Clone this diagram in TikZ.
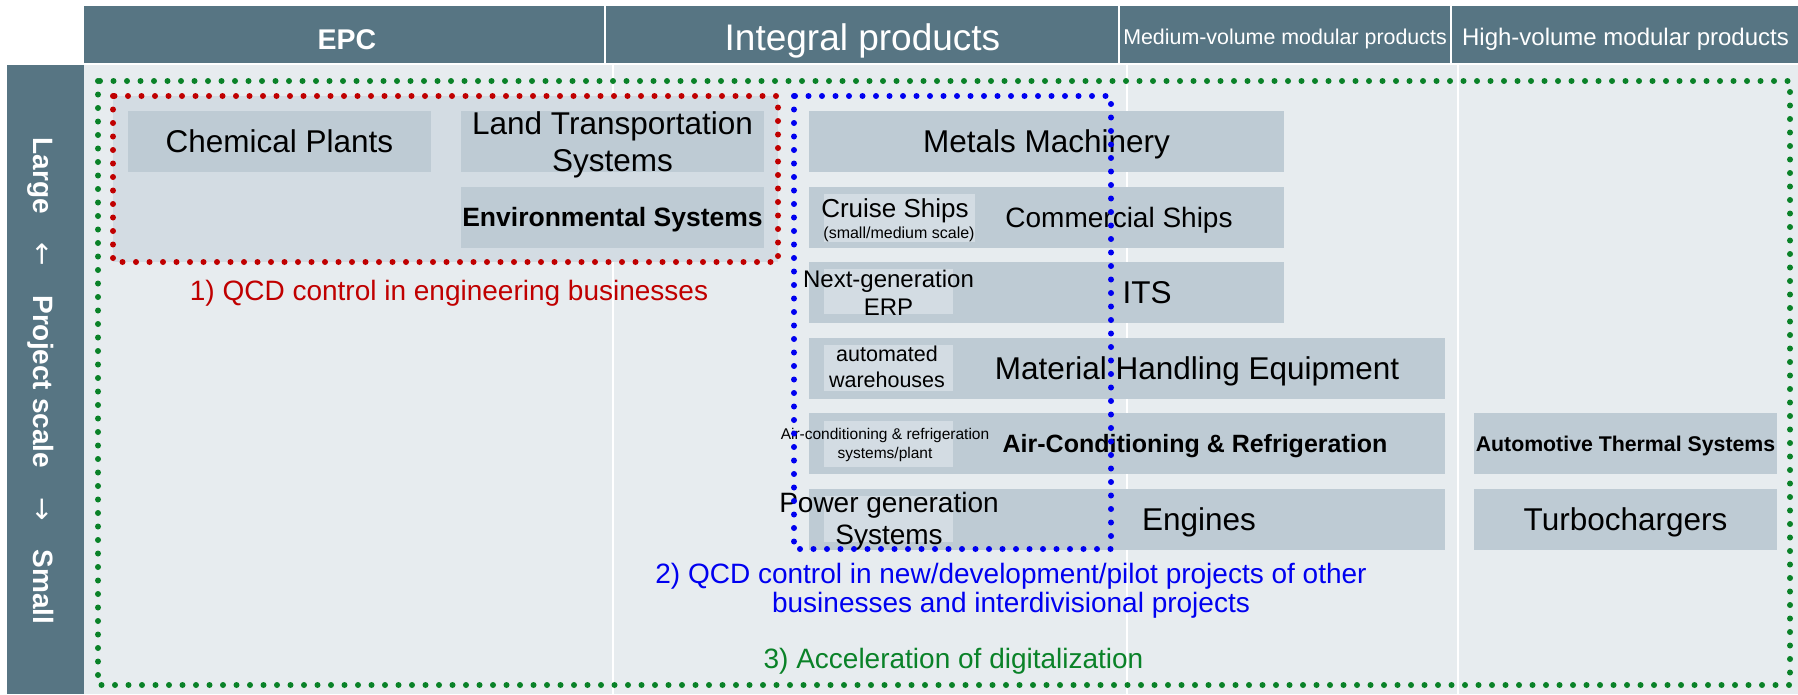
\documentclass[tikz,border=0pt]{standalone}
\usepackage{fontspec}
\setmainfont{Liberation Sans}
\newfontfamily\arrowfont{DejaVu Sans}
\usetikzlibrary{positioning}
\usepackage{xcolor}
\definecolor{HdrSlate}{HTML}{577583}
\definecolor{BodyMist}{HTML}{E7ECEF}
\definecolor{CellGray}{HTML}{BECBD4}
\definecolor{CellLight}{HTML}{D3DCE3}
\definecolor{QcdRed}{HTML}{C00000}
\definecolor{QcdBlue}{HTML}{0000F0}
\definecolor{DigiGreen}{HTML}{0A8228}
\tikzset{
    % Header and background styles
    header/.style={
        rectangle,
        fill=HdrSlate,
        inner sep=0pt,
        minimum height=57pt
    },
    hdrtext/.style={
        text=white,
        inner sep=0pt,
        anchor=base
    },
    column/.style={
        rectangle,
        fill=BodyMist,
        inner sep=0pt,
        minimum height=629pt
    },
    % Product boxes
    cell/.style={
        rectangle,
        fill=CellGray,
        inner sep=0pt,
        minimum height=61pt,
        text depth=0pt,
        font=\fontsize{31.5pt}{37pt}\selectfont
    },
    subcell/.style={
        rectangle,
        fill=CellLight,
        inner sep=0pt,
        minimum width=129pt,
        minimum height=46pt
    },
    celltext/.style={
        inner sep=0pt,
        text depth=0pt,
        font=\fontsize{31.5pt}{37pt}\selectfont
    },
    stacktext/.style={
        inner sep=0pt,
        align=center
    },
    goaltext/.style={
        inner sep=0pt,
        align=center,
        font=\fontsize{28pt}{29pt}\selectfont
    },
    % Dotted frames
    dotline/.style={
        line width=6pt,
        line cap=round,
        dash pattern=on 0pt off 13.5pt
    }
}
\newcommand{\scalearrow}[1]{\hspace{29pt}{\arrowfont\mdseries #1}\hspace{29pt}}

\begin{document}
\begin{tikzpicture}[x=1pt, y=-1pt]
    \useasboundingbox (0,0) rectangle (1798,694);

    % header row
    \node[header, minimum width=520pt] (epc) at (344,34.5) {};
    \node[header, minimum width=512pt] (integral) at (862,34.5) {};
    \node[header, minimum width=330pt] (medium) at (1285,34.5) {};
    \node[header, minimum width=346pt] (high) at (1625,34.5) {};
    \node[hdrtext, font=\bfseries\fontsize{28.5pt}{30pt}\selectfont] (epctext) at (347,49.5) {EPC};
    \node[hdrtext, font=\fontsize{37pt}{40pt}\selectfont] (integraltext) at (862.5,50) {Integral products};
    \node[hdrtext, font=\fontsize{21.4pt}{24pt}\selectfont] (mediumtext) at (1285,44) {Medium-volume modular products};
    \node[hdrtext, font=\fontsize{24pt}{26pt}\selectfont] (hightext) at (1625.5,45) {High-volume modular products};

    % body columns
    \node[column, minimum width=528pt] (epccol) at (348,379.5) {};
    \node[column, minimum width=512pt] (integralcol) at (870,379.5) {};
    \node[column, minimum width=329pt] (mediumcol) at (1292.5,379.5) {};
    \node[column, minimum width=339pt] (highcol) at (1628.5,379.5) {};

    % project scale axis
    \node[header, minimum width=77pt, minimum height=629pt] (scaleaxis) at (45.5,379.5) {};
    \node[rotate=-90, inner sep=0pt, text depth=0pt, text=white, font=\bfseries\fontsize{28pt}{30pt}\selectfont] (scaletext) at (43.5,381) {Large\scalearrow{←}Project scale\scalearrow{→}Small};

    % engineering area
    \fill[CellLight] (113,96) rectangle (778,262);

    % EPC products
    \node[cell, minimum width=303pt] (chem) at (279.5,141.5) {Chemical Plants};
    \node[cell, minimum width=303pt] (land) at (612.5,141.5) {};
    \node[stacktext, font=\fontsize{31.5pt}{37pt}\selectfont] (landtext) at (612.5,144.4) {Land Transportation\\Systems};
    \node[cell, minimum width=303pt, font=\bfseries\fontsize{26.5pt}{30pt}\selectfont] (env) at (612.5,217) {Environmental Systems};

    % integral products
    \node[cell, minimum width=475pt] (metals) at (1046.5,141.5) {Metals Machinery};
    \node[cell, minimum width=475pt] (ships) at (1046.5,217) {};
    \node[cell, minimum width=475pt] (its) at (1046.5,292.5) {};
    \node[cell, minimum width=636pt] (mhe) at (1127,368) {};
    \node[cell, minimum width=636pt] (aircon) at (1127,443.5) {};
    \node[cell, minimum width=636pt] (engines) at (1127,519.5) {};

    \node[subcell, minimum width=151pt, minimum height=48pt] (cruise) at (899.5,218) {};
    \node[subcell, minimum height=45pt] (erp) at (888.5,291.5) {};
    \node[subcell] (warehouse) at (888.5,368) {};
    \node[subcell] (acplant) at (888.5,444) {};
    \node[subcell] (powergen) at (888.5,519) {};

    \node[celltext, font=\fontsize{28pt}{30pt}\selectfont] (shipstext) at (1119,217) {Commercial Ships};
    \node[celltext] (itstext) at (1147,292.5) {ITS};
    \node[celltext] (mhetext) at (1197,368) {Material Handling Equipment};
    \node[celltext, font=\bfseries\fontsize{25pt}{28pt}\selectfont] (aircontext) at (1195,443.5) {Air-Conditioning \& Refrigeration};
    \node[celltext] (enginestext) at (1199,519.5) {Engines};

    \node[inner sep=0pt, anchor=base, font=\fontsize{26pt}{28pt}\selectfont] (cruisetext) at (895,217) {Cruise Ships};
    \node[inner sep=0pt, anchor=base, font=\fontsize{16pt}{18pt}\selectfont] (cruisenote) at (899,238.5) {(small/medium scale)};
    \node[stacktext, font=\fontsize{24pt}{28pt}\selectfont] (erptext) at (888.5,292.3) {Next-generation\\ERP};
    \node[stacktext, font=\fontsize{21.5pt}{26pt}\selectfont] (warehousetext) at (887,367.2) {automated\\warehouses};
    \node[stacktext, font=\fontsize{15.5pt}{19pt}\selectfont] (acplanttext) at (885,444.5) {Air-conditioning \& refrigeration\\systems/plant};
    \node[stacktext, font=\fontsize{28pt}{32pt}\selectfont] (powergentext) at (889,521.7) {Power generation\\Systems};

    % high-volume modular products
    \node[cell, minimum width=303pt, font=\bfseries\fontsize{21.3pt}{24pt}\selectfont] (thermal) at (1625.5,443.5) {Automotive Thermal Systems};
    \node[cell, minimum width=303pt] (turbo) at (1625.5,519.5) {Turbochargers};

    % initiatives
    \node[goaltext, text=QcdRed, text depth=0pt] (qcdeng) at (449,290) {1) QCD control in engineering businesses};
    \node[goaltext, text=QcdBlue] (qcdnew) at (1011,590.3) {2) QCD control in new/development/pilot projects of other\\businesses and interdivisional projects};
    \node[goaltext, text=DigiGreen, text depth=0pt] (digital) at (953.5,658) {3) Acceleration of digitalization};

    \draw[dotline, DigiGreen] (98,81) rectangle (1790,685);
    \draw[dotline, QcdRed] (113,96) rectangle (778,262);
    \draw[dotline, QcdBlue] (794,96) rectangle (1111,549);
\end{tikzpicture}
\end{document}
